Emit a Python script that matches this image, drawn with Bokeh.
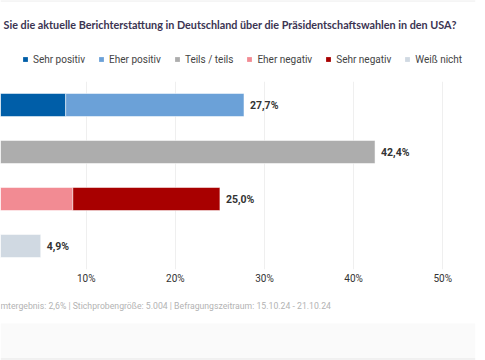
from bokeh.plotting import figure
from bokeh.models import Range1d, Label, Legend, LegendItem, ColumnDataSource, FixedTicker, Span, BoxAnnotation
from bokeh.layouts import column
from bokeh.core.properties import value
from bokeh.embed import file_html
from bokeh.resources import INLINE

# ---------------- data ----------------
rows = [1, 2, 3, 4]  # bar rows, top to bottom (category labels are cropped in the reference)
series = ["Sehr positiv", "Eher positiv", "Teils / teils", "Eher negativ", "Sehr negativ", "Weiß nicht"]
sehr_positiv = [7.7, 0, 0, 0]
eher_positiv = [20.0, 0, 0, 0]
teils_teils = [0, 42.4, 0, 0]
eher_negativ = [0, 0, 8.5, 0]
sehr_negativ = [0, 0, 16.5, 0]
weiss_nicht = [0, 0, 0, 4.9]
colors = ["#005ea8", "#6ba1d8", "#adadad", "#f28b93", "#a80000", "#d0d9e2"]
x_ticks = [0, 10, 20, 30, 40, 50]
x_tick_labels = ["0%", "10%", "20%", "30%", "40%", "50%"]
title_text = "Sie die aktuelle Berichterstattung in Deutschland über die Präsidentschaftswahlen in den USA?"
footnote_text = "mtergebnis: 2,6% | Stichprobengröße: 5.004 | Befragungszeitraum: 15.10.24 - 21.10.24"

values_by_series = [sehr_positiv, eher_positiv, teils_teils, eher_negativ, sehr_negativ, weiss_nicht]

FONT = "Roboto"
W = 485

def bare(fig):
    fig.outline_line_color = None
    fig.xgrid.visible = False
    fig.ygrid.visible = False
    fig.background_fill_color = "white"
    fig.border_fill_color = "white"

# ---------------- main bars ----------------
p = figure(width=W, height=209, x_range=Range1d(0.387, 53.67), y_range=Range1d(4.5, 0.5),
           output_backend="svg", toolbar_location=None, y_axis_location=None,
           min_border_left=0, min_border_right=10, min_border_top=0, min_border_bottom=21)
p.outline_line_color = None
p.background_fill_color = "white"
p.border_fill_color = "white"

cum = [0.0] * len(rows)
sources = []
for name, vals, col in zip(series, values_by_series, colors):
    left, right, ys = [], [], []
    for i, v in enumerate(vals):
        if v > 0:
            left.append(cum[i]); right.append(cum[i] + v); ys.append(rows[i])
            cum[i] += v
    src = ColumnDataSource(dict(y=ys, left=left, right=right))
    sources.append(src)
    p.hbar(y="y", left="left", right="right", height=0.49, source=src,
           fill_color=col, line_color="white", line_alpha=0.5, line_width=1)

totals = cum
total_labels = [f"{t:.1f}".replace(".", ",") + "%" for t in totals]
p.text(x=totals, y=rows, text=total_labels, x_offset=6, text_baseline="middle", text_align="left",
       text_font=value(FONT), text_font_style="bold", text_font_size="10.5px", text_color="#333333")

xa = p.xaxis[0]
xa.ticker = FixedTicker(ticks=x_ticks)
xa.major_label_overrides = {t: l for t, l in zip(x_ticks, x_tick_labels)}
xa.axis_line_color = None
xa.major_tick_line_color = None
xa.major_tick_out = 0
xa.major_tick_in = 0
xa.minor_tick_line_color = None
xa.minor_tick_out = 0
xa.major_label_standoff = 3
xa.major_label_text_font = FONT
xa.major_label_text_font_size = "10px"
xa.major_label_text_color = "#333333"

p.xgrid.ticker = FixedTicker(ticks=x_ticks)
p.xgrid.grid_line_color = "#efefef"
p.ygrid.visible = False

# ---------------- header: title + legend ----------------
head = figure(width=W, height=81, x_range=Range1d(0, 1), y_range=Range1d(0, 1),
              output_backend="svg", toolbar_location=None, x_axis_location=None, y_axis_location=None,
              min_border=0)
bare(head)
head.add_layout(Span(location=0.995, dimension="width", line_color="#e6e6e6", line_width=1))
head.add_layout(Label(x=3, y=81 - 24, x_units="screen", y_units="screen", text=title_text,
                      text_font="Lato", text_font_style="bold", text_font_size="10.8px",
                      text_color="#3b3452", text_baseline="middle"))
items = []
for name, col, src in zip(series, colors, sources):
    # legend swatch renderer (hidden in the header; the bars themselves are drawn in the main plot)
    r = head.hbar(y="y", left="left", right="right", height=0.49, source=src,
                  fill_color=col, line_color=None, visible=False)
    items.append(LegendItem(label=name, renderers=[r]))
legend = Legend(items=items, orientation="horizontal", location=(22, 81 - 65),
                glyph_width=6, glyph_height=6, label_standoff=5, spacing=13,
                label_text_font=FONT, label_text_font_size="10px", label_text_color="#444444",
                label_height=12, padding=0, margin=0,
                inactive_fill_alpha=0, border_line_color=None, background_fill_alpha=0)
head.add_layout(legend, "center")

# ---------------- footer: footnote + band ----------------
foot = figure(width=W, height=70, x_range=Range1d(0, 1), y_range=Range1d(70, 0),
              output_backend="svg", toolbar_location=None, x_axis_location=None, y_axis_location=None,
              min_border=0)
bare(foot)
foot.add_layout(Label(x=0, y=70 - 15, x_units="screen", y_units="screen", text=footnote_text,
                      text_font=FONT, text_font_size="8.7px", text_color="#b3b3b3",
                      text_baseline="middle"))
foot.add_layout(BoxAnnotation(top=33, bottom=68, fill_color="#fafafa", fill_alpha=1, line_color=None))
foot.add_layout(Span(location=68.5, dimension="width", line_color="#e4e4e4", line_width=1))

layout = column(head, p, foot, spacing=0)
open("out.html", "w").write(file_html(layout, INLINE))
